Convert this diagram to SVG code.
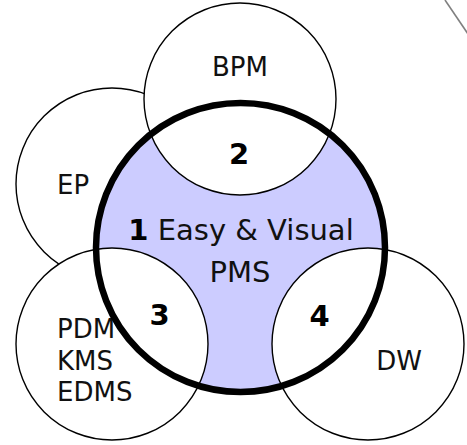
<svg xmlns="http://www.w3.org/2000/svg" width="467" height="445" viewBox="0 0 467 445">
<style>
.ring{fill:#ffffff;stroke:#000000;stroke-width:1.4}
.lbl{font-family:"DejaVu Sans","Liberation Sans",sans-serif;font-size:26px;fill:#111111}
.num{font-family:"DejaVu Sans","Liberation Sans",sans-serif;font-size:29px;font-weight:bold;fill:#000000;text-anchor:middle}
.main{font-family:"DejaVu Sans","Liberation Sans",sans-serif;font-size:29px;fill:#111111;text-anchor:middle}
</style>
<rect width="467" height="445" fill="#ffffff"/>
<g id="connectors">
<line x1="445" y1="0" x2="468" y2="34" stroke="#808080" stroke-width="1.6"/>
</g>
<g id="ep">
<circle class="ring" cx="112" cy="184" r="96"/>
<text class="lbl" x="57" y="194">EP</text>
</g>
<g id="pms-fill">
<circle cx="240.5" cy="247.5" r="144.5" fill="#ccccff"/>
</g>
<g id="bpm">
<circle class="ring" cx="240" cy="99" r="96"/>
<text class="lbl" x="240" y="76" text-anchor="middle">BPM</text>
<text class="num" x="239" y="164">2</text>
</g>
<g id="pdm">
<circle class="ring" cx="112" cy="344" r="96"/>
<text class="lbl" x="57"><tspan x="57" y="338">PDM</tspan><tspan x="57" y="369.5">KMS</tspan><tspan x="57" y="401">EDMS</tspan></text>
<text class="num" x="159.5" y="325">3</text>
</g>
<g id="dw">
<circle class="ring" cx="368" cy="344" r="96"/>
<text class="lbl" x="399" y="370" text-anchor="middle">DW</text>
<text class="num" x="319.5" y="326">4</text>
</g>
<g id="pms">
<circle cx="240.5" cy="247.5" r="144.5" fill="none" stroke="#000000" stroke-width="6.5"/>
<text class="main" x="241" y="240"><tspan font-weight="bold" fill="#000000">1</tspan> Easy &amp; Visual</text>
<text class="main" x="240" y="282">PMS</text>
</g>
</svg>
